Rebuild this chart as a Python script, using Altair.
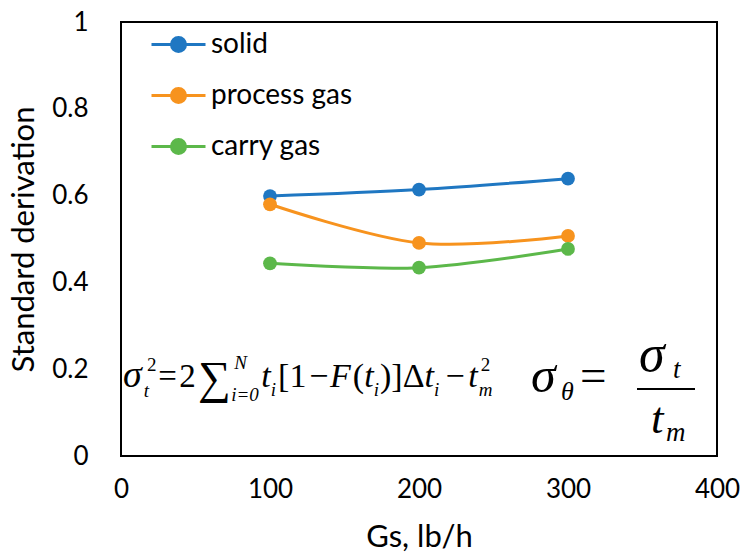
import altair as alt
import pandas as pd

gs = [100, 200, 300]
solid = [0.599, 0.614, 0.639]
process_gas = [0.580, 0.491, 0.507]
carry_gas = [0.444, 0.434, 0.477]
series_names = ["solid", "process gas", "carry gas"]
series_colors = ["#1f77c2", "#f7931e", "#5cb84a"]
x_ticks = [0, 100, 200, 300, 400]
y_ticks = [0, 0.2, 0.4, 0.6, 0.8, 1]

rows = []
for name, vals in zip(series_names, [solid, process_gas, carry_gas]):
    for g, v in zip(gs, vals):
        rows.append({"Gs": g, "value": v, "series": name})
df = pd.DataFrame(rows)

W, H = 596, 434
OX, OY = 121, 22  # plot origin on the page

color = alt.Color(
    "series:N",
    scale=alt.Scale(domain=series_names, range=series_colors),
    legend=alt.Legend(
        title=None,
        orient="none",
        legendX=29,
        legendY=-6,
        labelFontSize=28,
        labelFont="Lato",
        labelColor="#000000",
        symbolType="M-1,0L1,0M-0.26,0A0.26,0.26,0,1,1,0.26,0A0.26,0.26,0,1,1,-0.26,0Z",
        symbolSize=2916,
        symbolStrokeWidth=3,
        rowPadding=8,
        labelOffset=4,
    ),
)

x = alt.X("Gs:Q", scale=alt.Scale(domain=[0, 400], nice=False),
          axis=alt.Axis(values=x_ticks, title="Gs, lb/h", grid=False, ticks=False,
                        domain=False, labelPadding=20, titlePadding=20, format="d",
                        labelFlush=False, labelOverlap=False, titleFontSize=31))
y = alt.Y("value:Q", scale=alt.Scale(domain=[0, 1], nice=False),
          axis=alt.Axis(values=y_ticks, title="Standard derivation", grid=False, ticks=False,
                        domain=False, labelPadding=33, titlePadding=11, labelFlush=False,
                        labelOverlap=False, format="~g", titleFontSize=31))

base = alt.Chart(df)
lines = base.mark_line(interpolate="cardinal", strokeWidth=3).encode(x=x, y=y, color=color)
points = base.mark_point(filled=True, size=190, opacity=1).encode(
    x=x, y=y, color=alt.Color("series:N", scale=alt.Scale(domain=series_names, range=series_colors), legend=None))

# formula pieces: text, page x, page y (baseline), size, italic
f1 = [
    ("σ", 123, 387, 38, True),
    ("t", 143, 397, 19, True),
    ("2", 146, 371, 19, False),
    ("=", 157, 387, 33, False),
    ("2", 177, 387, 33, False),
    ("∑", 195, 393, 46, False),
    ("N", 230, 369, 19, True),
    ("i=0", 227, 401, 19, True),
    ("t", 256, 387, 34, True),
    ("i", 265, 396, 19, True),
    ("[", 272, 387, 34, False),
    ("1", 283, 387, 34, False),
    ("−", 302, 387, 34, False),
    ("F", 322, 387, 34, True),
    ("(", 344, 387, 34, False),
    ("t", 355, 387, 34, True),
    ("i", 364, 396, 19, True),
    (")", 370, 387, 34, False),
    ("]", 381, 387, 34, False),
    ("Δ", 392, 387, 34, False),
    ("t", 413, 387, 34, True),
    ("i", 422, 396, 19, True),
    ("−", 433, 387, 34, False),
    ("t", 455, 387, 34, True),
    ("m", 465, 396, 19, True),
    ("2", 467, 371, 19, False),
]
f1 = [(t, 123 + (px - 123) * 1.04, py, s, it) for t, px, py, s, it in f1]
f2 = [
    ("σ", 531, 392, 50, True),
    ("θ", 561, 400, 26, True),
    ("=", 580, 391, 47, False),
    ("σ", 639, 371, 52, True),
    ("t", 673, 378, 27, True),
    ("t", 651, 433, 45, True),
    ("m", 666, 441, 27, True),
]
fdf = pd.DataFrame([
    {"txt": t, "px": px - OX, "py": py - OY, "size": s, "italic": it}
    for t, px, py, s, it in f1 + f2
])


def text_layer(italic):
    return alt.Chart(fdf[fdf["italic"] == italic]).mark_text(
        align="left", baseline="alphabetic", font="Liberation Serif",
        fontStyle="italic" if italic else "normal", color="black").encode(
        x=alt.X("px:Q", scale=None), y=alt.Y("py:Q", scale=None),
        text="txt:N", size=alt.Size("size:Q", scale=None, legend=None))


bar = alt.Chart(pd.DataFrame({"a": [637 - OX], "b": [695 - OX], "c": [389 - OY]})).mark_rule(
    color="black", strokeWidth=2).encode(x=alt.X("a:Q", scale=None), x2="b:Q", y=alt.Y("c:Q", scale=None))

chart = alt.layer(lines, points, text_layer(True), text_layer(False), bar).properties(
    width=W, height=H,
    background="white",
    autosize=alt.AutoSizeParams(type="none"),
    padding={"left": OX, "top": OY, "right": 743 - OX - W, "bottom": 552 - OY - H},
).configure_view(stroke="black", strokeWidth=2).configure_axis(
    labelFont="Lato", titleFont="Lato", labelFontSize=26, titleFontSize=31,
    labelColor="#000000", titleColor="#000000", titleFontWeight="normal",
)

chart.save("out.html", embed_options={"renderer": "svg", "actions": False})
